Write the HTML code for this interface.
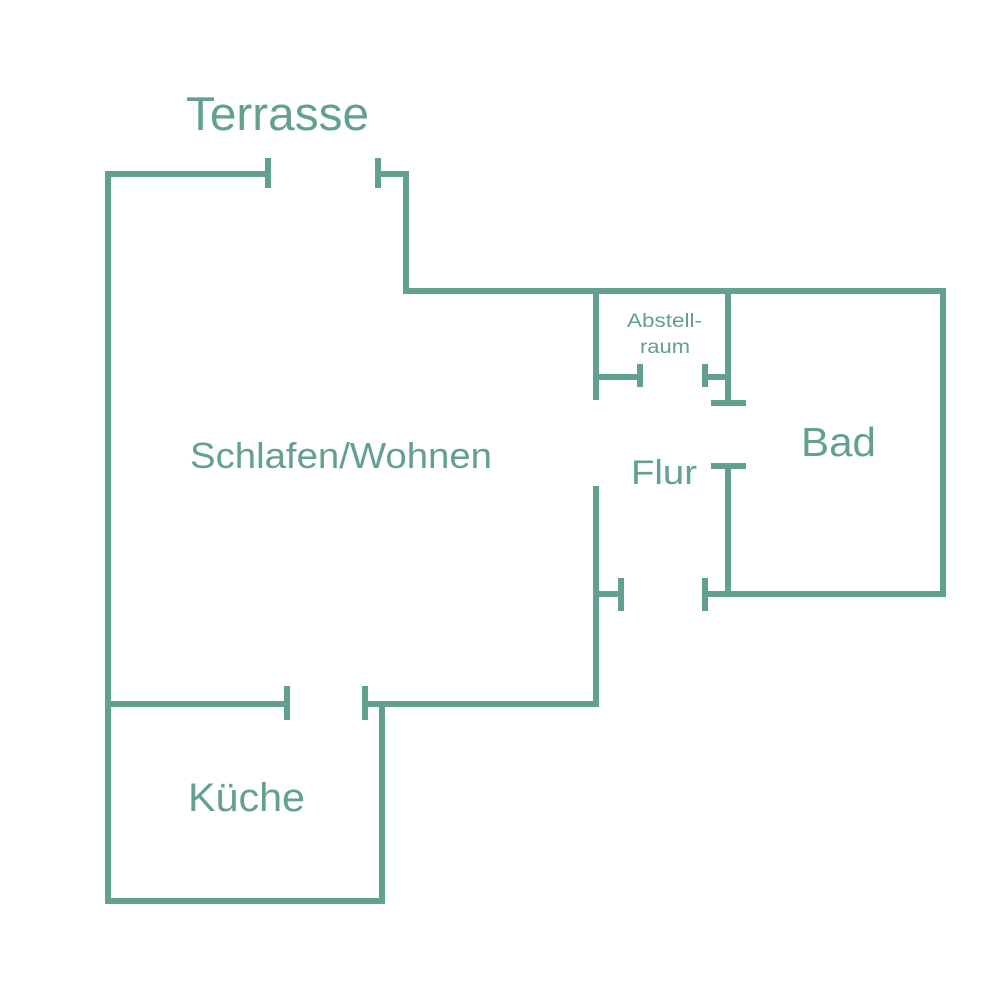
<!DOCTYPE html>
<html><head><meta charset="utf-8"><style>
html,body{margin:0;padding:0;background:#fff;}
svg{display:block;}
text{font-family:"Liberation Sans",sans-serif;fill:#62a092;}
</style></head><body>
<svg width="1000" height="1000" viewBox="0 0 1000 1000">
<g stroke="#62a092" stroke-width="6" fill="none" stroke-linecap="butt">
<polyline points="268,174 108,174 108,901 382,901 382,704"/>
<line x1="268" y1="158" x2="268" y2="188"/>
<line x1="378" y1="158" x2="378" y2="188"/>
<polyline points="378,174 406,174 406,291 943,291 943,594 705,594"/>
<line x1="705" y1="578" x2="705" y2="611"/>
<line x1="596" y1="291" x2="596" y2="400"/>
<line x1="728" y1="291" x2="728" y2="403"/>
<line x1="711" y1="403" x2="746" y2="403"/>
<line x1="596" y1="377" x2="640" y2="377"/>
<line x1="640" y1="364" x2="640" y2="387"/>
<line x1="705" y1="377" x2="728" y2="377"/>
<line x1="705" y1="364" x2="705" y2="387"/>
<line x1="711" y1="466" x2="746" y2="466"/>
<line x1="728" y1="466" x2="728" y2="594"/>
<line x1="596" y1="486" x2="596" y2="707"/>
<line x1="596" y1="594" x2="621" y2="594"/>
<line x1="621" y1="578" x2="621" y2="611"/>
<line x1="108" y1="704" x2="287" y2="704"/>
<line x1="287" y1="686" x2="287" y2="720"/>
<line x1="365" y1="704" x2="599" y2="704"/>
<line x1="365" y1="686" x2="365" y2="720"/>
</g>
<text x="186" y="130" font-size="47" textLength="183" lengthAdjust="spacingAndGlyphs">Terrasse</text>
<text x="190" y="468" font-size="36" textLength="302" lengthAdjust="spacingAndGlyphs">Schlafen/Wohnen</text>
<text x="801" y="456" font-size="41" textLength="75" lengthAdjust="spacingAndGlyphs">Bad</text>
<text x="631" y="484" font-size="34" textLength="66" lengthAdjust="spacingAndGlyphs">Flur</text>
<text x="627" y="327" font-size="19" textLength="75" lengthAdjust="spacingAndGlyphs">Abstell-</text>
<text x="640" y="353" font-size="19" textLength="50" lengthAdjust="spacingAndGlyphs">raum</text>
<text x="188" y="811" font-size="40" textLength="117" lengthAdjust="spacingAndGlyphs">Küche</text>
</svg>
</body></html>
